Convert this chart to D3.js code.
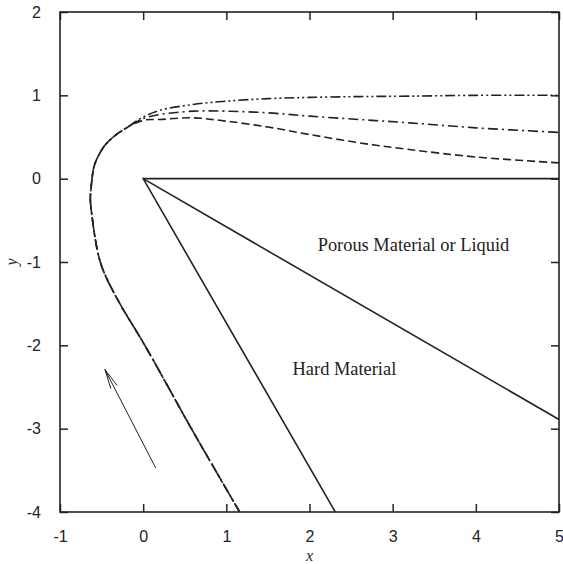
<!DOCTYPE html>
<html>
<head>
<meta charset="utf-8">
<script src="https://cdn.jsdelivr.net/npm/d3@7"></script>
<style>
  body { margin: 0; background: #fff; }
  svg { display: block; }
</style>
</head>
<body>
<svg></svg>
<script>
// taille de la figure
var width = 563;
var height = 564;
var margin = {left: 60, right: 4, top: 12, bottom: 52};

// ticks
var xTicks = [-1, 0, 1, 2, 3, 4, 5];
var yTicks = [-4, -3, -2, -1, 0, 1, 2];

// partie commune des lignes de courant (x, y)
var approach = [
  [1.16, -4], [0.58, -3], [0.02, -2], [-0.28, -1.5], [-0.46, -1.15],
  [-0.53, -0.95], [-0.58, -0.7], [-0.615, -0.45], [-0.635, -0.25],
  [-0.62, -0.05], [-0.59, 0.15], [-0.53, 0.29], [-0.46, 0.40],
  [-0.36, 0.50], [-0.2, 0.61]
];
// les trois queues
var tailDashed = [
  [0, 0.7], [0.2, 0.71], [0.6, 0.73], [1.0, 0.69], [1.5, 0.62],
  [2.0, 0.53], [2.6, 0.43], [3.2, 0.35], [4.0, 0.26], [5, 0.19]
];
var tailDashDot = [
  [0, 0.72], [0.2, 0.77], [0.6, 0.81], [1.0, 0.81], [1.5, 0.79],
  [2.0, 0.75], [2.6, 0.71], [3.2, 0.67], [4.0, 0.61], [5, 0.555]
];
var tailDashDotDot = [
  [0, 0.74], [0.2, 0.82], [0.6, 0.89], [1.0, 0.93], [1.5, 0.96],
  [2.0, 0.975], [2.6, 0.985], [3.2, 0.99], [4.0, 1.0], [5, 1.0]
];
// le coin (wedge)
var wedgeOuter = [[2.31, -4], [0, 0], [5, 0]];
var wedgeInner = [[0, 0], [5, -2.89]];
// flèche
var arrowFrom = [0.15, -3.47];
var arrowTo = [-0.46, -2.29];
// textes
var labels = [
  {text: "Porous Material or Liquid", x: 3.25, y: -0.87},
  {text: "Hard Material", x: 2.42, y: -2.36}
];

var streamlines = [
  {pts: approach.concat(tailDashed), dash: "8,4"},
  {pts: approach.concat(tailDashDot), dash: "10,4,2,4"},
  {pts: approach.concat(tailDashDotDot), dash: "10,3,2,3,2,3"}
];

var svg = d3.select("svg")
  .attr("width", width)
  .attr("height", height);

var pw = 499, ph = 500;
var x = d3.scaleLinear().domain([-1, 5]).range([margin.left, margin.left + pw]);
var y = d3.scaleLinear().domain([-4, 2]).range([margin.top + ph, margin.top]);

var line = d3.line()
  .x(function(d) { return x(d[0]); })
  .y(function(d) { return y(d[1]); })
  .curve(d3.curveCatmullRom.alpha(0.5));
var straight = d3.line()
  .x(function(d) { return x(d[0]); })
  .y(function(d) { return y(d[1]); });

var plot = svg.append("g");
svg.append("clipPath").attr("id", "clip")
  .append("rect")
  .attr("x", margin.left).attr("y", margin.top)
  .attr("width", pw).attr("height", ph);

// lignes de courant
plot.selectAll(".stream")
  .data(streamlines)
  .enter()
  .append("path")
  .attr("class", "stream")
  .attr("clip-path", "url(#clip)")
  .attr("d", function(d) { return line(d.pts); })
  .attr("fill", "none")
  .attr("stroke", "#222")
  .attr("stroke-width", 1.6)
  .attr("stroke-dasharray", function(d) { return d.dash; });

// le coin
plot.append("path")
  .attr("d", straight(wedgeOuter))
  .attr("fill", "none")
  .attr("stroke", "#222")
  .attr("stroke-width", 1.6);
plot.append("path")
  .attr("d", straight(wedgeInner))
  .attr("fill", "none")
  .attr("stroke", "#222")
  .attr("stroke-width", 1.6);

// flèche
var ax0 = x(arrowFrom[0]), ay0 = y(arrowFrom[1]);
var ax1 = x(arrowTo[0]), ay1 = y(arrowTo[1]);
var ang = Math.atan2(ay0 - ay1, ax0 - ax1);
var hl = 20, ha = 10 * Math.PI / 180;
plot.append("path")
  .attr("d", "M" + ax0 + "," + ay0 + "L" + ax1 + "," + ay1 +
    "M" + (ax1 + hl * Math.cos(ang - ha)) + "," + (ay1 + hl * Math.sin(ang - ha)) +
    "L" + ax1 + "," + ay1 +
    "L" + (ax1 + hl * Math.cos(ang + ha)) + "," + (ay1 + hl * Math.sin(ang + ha)))
  .attr("fill", "none")
  .attr("stroke", "#222")
  .attr("stroke-width", 1);

// textes
plot.selectAll(".lab")
  .data(labels)
  .enter()
  .append("text")
  .attr("class", "lab")
  .attr("x", function(d) { return x(d.x); })
  .attr("y", function(d) { return y(d.y); })
  .attr("text-anchor", "middle")
  .attr("font-family", "Liberation Serif, serif")
  .attr("font-size", 18.4)
  .attr("fill", "#222")
  .text(function(d) { return d.text; });

// axes (ticks vers l'intérieur, sur les 4 côtés)
function styleAxis(g) {
  g.select(".domain").remove();
  g.selectAll(".tick line").attr("stroke", "#222").attr("stroke-width", 1.5);
  g.selectAll("text")
    .attr("font-family", "Liberation Sans, Arial, sans-serif")
    .attr("font-size", 16)
    .attr("fill", "#222");
}
var fmt = function(d) { return String(d); };
svg.append("g")
  .attr("transform", "translate(0," + (margin.top + ph) + ")")
  .call(d3.axisBottom(x).tickValues(xTicks).tickSizeInner(-8).tickPadding(19).tickFormat(fmt))
  .call(styleAxis);
svg.append("g")
  .attr("transform", "translate(0," + margin.top + ")")
  .call(d3.axisTop(x).tickValues(xTicks).tickSizeInner(-8).tickFormat(""))
  .call(styleAxis);
svg.append("g")
  .attr("transform", "translate(" + margin.left + ",0)")
  .call(d3.axisLeft(y).tickValues(yTicks).tickSizeInner(-8).tickPadding(19).tickFormat(fmt))
  .call(styleAxis);
svg.append("g")
  .attr("transform", "translate(" + (margin.left + pw) + ",0)")
  .call(d3.axisRight(y).tickValues(yTicks).tickSizeInner(-8).tickFormat(""))
  .call(styleAxis);

// cadre
svg.append("rect")
  .attr("x", margin.left).attr("y", margin.top)
  .attr("width", pw).attr("height", ph)
  .attr("fill", "none")
  .attr("stroke", "#222")
  .attr("stroke-width", 1.6);

// titres des axes
svg.append("text")
  .attr("x", margin.left + pw / 2)
  .attr("y", 561)
  .attr("text-anchor", "middle")
  .attr("font-family", "Liberation Serif, serif")
  .attr("font-style", "italic")
  .attr("font-size", 16)
  .attr("fill", "#222")
  .text("x");
svg.append("text")
  .attr("transform", "translate(17," + (margin.top + ph / 2) + ") rotate(-90)")
  .attr("text-anchor", "middle")
  .attr("font-family", "Liberation Serif, serif")
  .attr("font-style", "italic")
  .attr("font-size", 16)
  .attr("fill", "#222")
  .text("y");
</script>
</body>
</html>
